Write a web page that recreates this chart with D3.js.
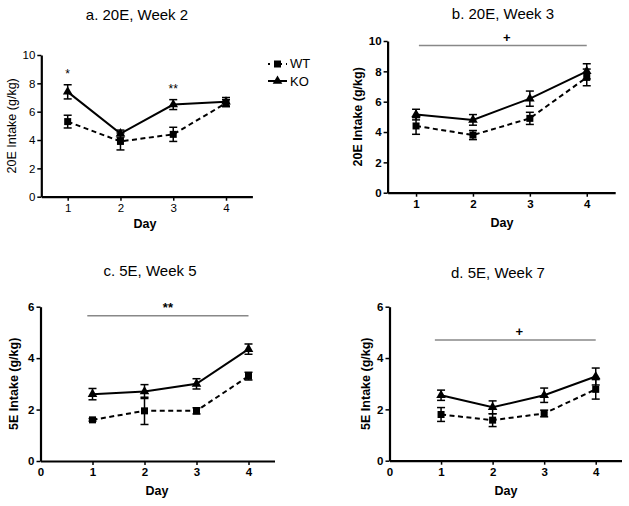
<!DOCTYPE html>
<html><head><meta charset="utf-8">
<script src="https://cdn.jsdelivr.net/npm/d3@7"></script>
<style>body{margin:0;background:#fff}svg{display:block}text{font-family:"Liberation Sans",Arial,sans-serif}</style>
</head><body>
<svg id="c" width="629" height="506"></svg>
<script>
const days = [1, 2, 3, 4];
const titles = ["a. 20E, Week 2", "b. 20E, Week 3", "c. 5E, Week 5", "d. 5E, Week 7"];
const yLabels = ["20E Intake (g/kg)", "20E Intake (g/kg)", "5E Intake (g/kg)", "5E Intake (g/kg)"];
const koMean = [[7.4, 4.45, 6.5, 6.7], [5.15, 4.8, 6.2, 8.0], [2.6, 2.7, 3.0, 4.35], [2.55, 2.08, 2.55, 3.28]];
const koErr  = [[0.5, 0.25, 0.35, 0.3], [0.35, 0.35, 0.5, 0.5], [0.22, 0.27, 0.2, 0.2], [0.2, 0.25, 0.28, 0.33]];
const wtMean = [[5.3, 3.9, 4.4, 6.6], [4.4, 3.8, 4.9, 7.6], [1.6, 1.95, 1.95, 3.3], [1.8, 1.58, 1.84, 2.78]];
const wtErr  = [[0.45, 0.6, 0.5, 0.25], [0.55, 0.3, 0.4, 0.55], [0.05, 0.53, 0.12, 0.15], [0.27, 0.25, 0.13, 0.38]];
const yMax = [10, 10, 6, 6];
const yTicks = [[0, 2, 4, 6, 8, 10], [0, 2, 4, 6, 8, 10], [0, 2, 4, 6], [0, 2, 4, 6]];
const xTicks = [[1, 2, 3, 4], [1, 2, 3, 4], [0, 1, 2, 3, 4], [0, 1, 2, 3, 4]];
const xDomain = [[0.5, 4.5], [0.5, 4.5], [0, 4.5], [0, 4.5]];
const sigText = ["", "+", "**", "+"];
const sigY = [null, 9.7, 5.65, 4.7];
const sigX = [null, [1.05, 4], [0.9, 4], [0.88, 4]];
const pointStars = [["*", "", "**", ""]];
const legendNames = ["WT", "KO"];

// layout (pixel frames)
const frames = [
  {x0: 41.3, x1: 252.4, yTop: 55, yBot: 196.7, tx: 137, ty: 20, ylx: 16, lx: 145, ly: 228, bold: false},
  {x0: 387.6, x1: 615.2, yTop: 41, yBot: 192.7, tx: 503, ty: 19, ylx: 362, lx: 502, ly: 227, bold: true},
  {x0: 40.5, x1: 274.5, yTop: 306.7, yBot: 461, tx: 150, ty: 276, ylx: 18, lx: 157, ly: 495, bold: true},
  {x0: 389.5, x1: 621.5, yTop: 306.7, yBot: 460.7, tx: 498, ty: 278, ylx: 370, lx: 506, ly: 495, bold: true}
];

const svg = d3.select("#c");

function square(g, x, y) {
  g.append("rect").attr("x", x - 3.5).attr("y", y - 3.5).attr("width", 7).attr("height", 7).attr("fill", "#000");
}
function tri(g, x, y) {
  g.append("path").attr("d", d3.symbol(d3.symbolTriangle, 40)()).attr("transform", `translate(${x},${y})`).attr("fill", "#000");
}

frames.forEach((f, i) => {
  const g = svg.append("g");
  const x = d3.scaleLinear().domain(xDomain[i]).range([f.x0, f.x1]);
  const y = d3.scaleLinear().domain([0, yMax[i]]).range([f.yBot, f.yTop]);
  const fw = f.bold ? "bold" : "normal";

  // title
  g.append("text").attr("x", f.tx).attr("y", f.ty).attr("text-anchor", "middle")
    .attr("font-size", 15).text(titles[i]);

  // axes
  const ya = g.append("g").attr("transform", `translate(${f.x0},0)`)
    .call(d3.axisLeft(y).tickValues(yTicks[i]).tickFormat(d3.format("d")).tickSize(4).tickSizeOuter(0).tickPadding(2));
  const xa = g.append("g").attr("transform", `translate(0,${f.yBot})`)
    .call(d3.axisBottom(x).tickValues(xTicks[i]).tickFormat(d3.format("d")).tickSize(4).tickSizeOuter(0).tickPadding(3));
  [ya, xa].forEach(a => {
    a.select(".domain").attr("stroke", "#000").attr("stroke-width", 2.2);
    a.selectAll(".tick line").attr("stroke", "#000").attr("stroke-width", 1.5);
    a.selectAll(".tick text").attr("font-size", 11.5).attr("font-weight", fw).attr("fill", "#000")
      .style("font-family", '"Liberation Sans",Arial,sans-serif');
  });
  xa.selectAll(".tick").filter(d => d === 0).select("line").remove();

  // axis labels
  g.append("text").attr("x", f.lx).attr("y", f.ly).attr("text-anchor", "middle")
    .attr("font-size", 12.5).attr("font-weight", "bold").text("Day");
  const ymid = (f.yTop + f.yBot) / 2;
  g.append("text").attr("transform", `translate(${f.ylx},${ymid}) rotate(-90)`).attr("text-anchor", "middle")
    .attr("font-size", 12.5).attr("font-weight", fw).text(yLabels[i]);

  // significance bar
  if (sigText[i]) {
    g.append("line").attr("x1", x(sigX[i][0])).attr("x2", x(sigX[i][1]))
      .attr("y1", y(sigY[i])).attr("y2", y(sigY[i])).attr("stroke", "#888").attr("stroke-width", 1.5);
    g.append("text").attr("x", (x(sigX[i][0]) + x(sigX[i][1])) / 2 + (sigText[i] === "+" ? 4 : 0))
      .attr("y", y(sigY[i]) - 4).attr("text-anchor", "middle").attr("font-size", 13).attr("font-weight", "bold")
      .text(sigText[i]);
  }

  const line = d3.line().x((d, j) => x(days[j])).y(d => y(d));
  // WT dashed
  g.append("path").attr("d", line(wtMean[i])).attr("fill", "none").attr("stroke", "#000")
    .attr("stroke-width", 2).attr("stroke-dasharray", "5,3.5");
  g.append("path").attr("d", line(koMean[i])).attr("fill", "none").attr("stroke", "#000")
    .attr("stroke-width", 2);

  function errs(mean, err) {
    mean.forEach((m, j) => {
      const cx = x(days[j]);
      const t = y(m + err[j]), b = y(m - err[j]);
      g.append("line").attr("x1", cx).attr("x2", cx).attr("y1", t).attr("y2", b).attr("stroke", "#000").attr("stroke-width", 1.5);
      [t, b].forEach(yy => g.append("line").attr("x1", cx - 4).attr("x2", cx + 4).attr("y1", yy).attr("y2", yy)
        .attr("stroke", "#000").attr("stroke-width", 1.5));
    });
  }
  errs(wtMean[i], wtErr[i]);
  errs(koMean[i], koErr[i]);
  wtMean[i].forEach((m, j) => square(g, x(days[j]), y(m)));
  koMean[i].forEach((m, j) => tri(g, x(days[j]), y(m)));

  // point stars (panel a)
  if (i === 0) {
    pointStars[0].forEach((s, j) => {
      if (!s) return;
      g.append("text").attr("x", x(days[j])).attr("y", y(koMean[0][j] + koErr[0][j]) - 7)
        .attr("text-anchor", "middle").attr("font-size", 12).text(s);
    });
    // legend
    const lg = g.append("g");
    lg.append("line").attr("x1", 268).attr("x2", 287).attr("y1", 64).attr("y2", 64)
      .attr("stroke", "#000").attr("stroke-width", 2).attr("stroke-dasharray", "2,4");
    square(lg, 277.5, 64);
    lg.append("text").attr("x", 290).attr("y", 68).attr("font-size", 13).text(legendNames[0]);
    lg.append("line").attr("x1", 268).attr("x2", 287).attr("y1", 81).attr("y2", 81)
      .attr("stroke", "#000").attr("stroke-width", 2);
    tri(lg, 277.5, 81);
    lg.append("text").attr("x", 290).attr("y", 86).attr("font-size", 13).text(legendNames[1]);
  }
});
</script>
</body></html>
